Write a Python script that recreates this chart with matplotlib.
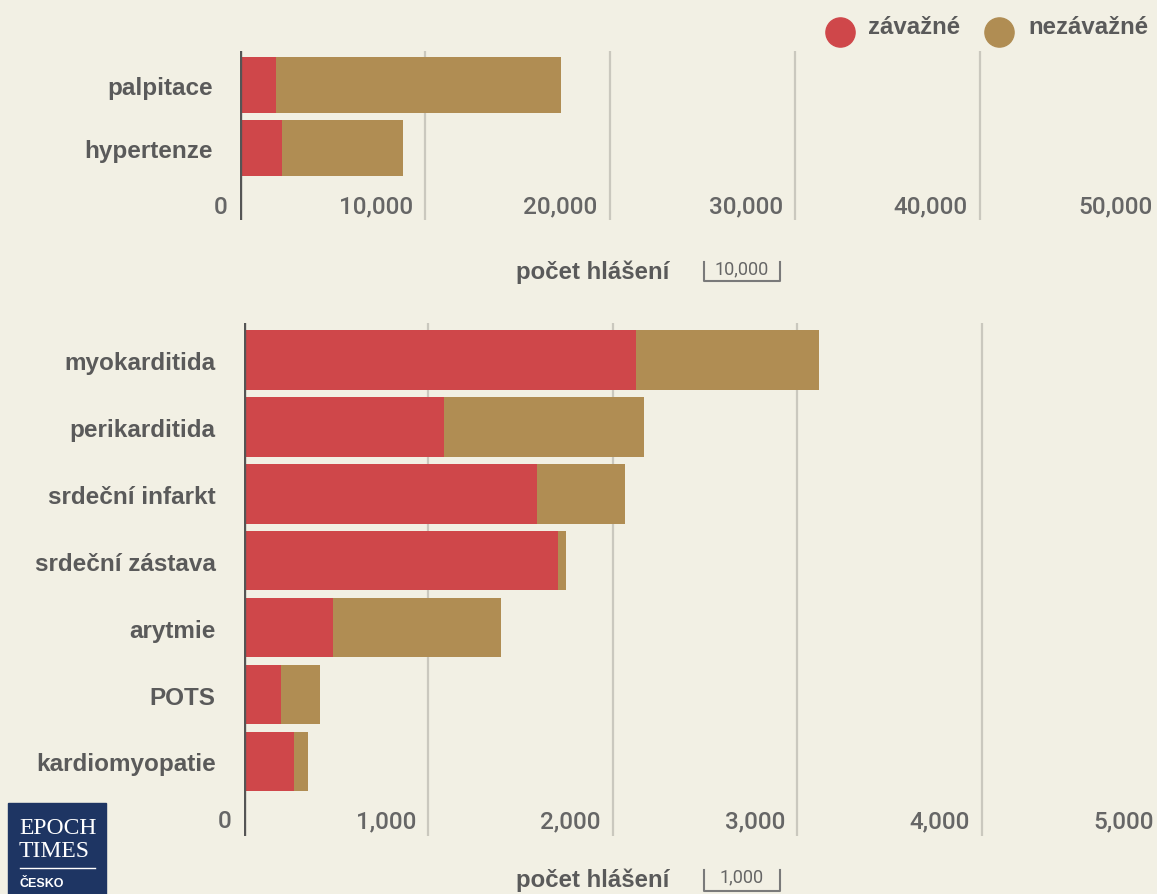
import matplotlib
matplotlib.use('Agg')
import matplotlib.pyplot as plt
from matplotlib.lines import Line2D
from matplotlib.patches import Rectangle

# ## Data (counts of reports)

top_labels = ['palpitace', 'hypertenze']
top_serious = [1970, 2310]
top_nonserious = [15390, 6540]

bottom_labels = ['myokarditida', 'perikarditida', 'srdeční infarkt',
                 'srdeční zástava', 'arytmie', 'POTS', 'kardiomyopatie']
bottom_serious = [2130, 1088, 1592, 1705, 487, 205, 275]
bottom_nonserious = [991, 1083, 477, 41, 910, 211, 73]

top_ticks = [0, 10000, 20000, 30000, 40000, 50000]
bottom_ticks = [0, 1000, 2000, 3000, 4000, 5000]

# ## Style

W, H = 1157, 895
BG = '#f2f0e4'
RED = '#cf474a'
TAN = '#b08d53'
GRID = '#cac8be'
TXT = '#5a5a5a'
LABEL_FONT = 'Liberation Sans'


def fx(px):
    return px / W


def fy(py):
    return 1 - py / H


fig = plt.figure(figsize=(W / 100, H / 100), dpi=100, facecolor=BG)


def bar_panel(rect, labels, serious, nonserious, ticks, ylim, label_y, pad):
    ax = fig.add_axes(rect)
    ax.set_facecolor('none')
    y = list(range(len(labels)))
    ax.barh(y, serious, height=0.89, color=RED, zorder=2)
    ax.barh(y, nonserious, left=serious, height=0.89, color=TAN, zorder=2)
    for v in ticks[1:]:
        ax.axvline(v, color=GRID, lw=1.6, zorder=1)
    ax.axvline(0, color='#555555', lw=2.4, zorder=3)
    for v in ticks:
        ax.annotate(f'{v:,}', xy=(v, label_y), xytext=(-8.5, 0),
                    textcoords='offset points', ha='right', va='center',
                    fontsize=17.5, fontweight='medium', color='#666666',
                    family='Roboto', annotation_clip=False)
    ax.set_xlim(ticks[0], ticks[-1])
    ax.set_ylim(*ylim)
    ax.set_yticks(y, labels)
    ax.tick_params(axis='y', length=0, pad=pad, labelsize=17.5, labelcolor=TXT)
    for t in ax.get_yticklabels():
        t.set_fontweight('bold')
        t.set_family(LABEL_FONT)
    ax.tick_params(axis='x', bottom=False, labelbottom=False)
    for s in ax.spines.values():
        s.set_visible(False)
    return ax


# top panel
bar_panel([fx(239.5), fy(221), 925 / W, 169 / H], top_labels, top_serious,
          top_nonserious, top_ticks, (2.14, -0.54), 1.92, 19)

# bottom panel
bar_panel([fx(243.5), fy(837), 922.5 / W, 513 / H], bottom_labels,
          bottom_serious, bottom_nonserious, bottom_ticks, (7.115, -0.553),
          6.89, 20)


# ## Axis titles with small scale brackets

def scale_bracket(x0, x1, ytop, ybot, text, ty):
    fig.add_artist(Line2D([fx(x0), fx(x0), fx(x1), fx(x1)],
                          [fy(ytop), fy(ybot), fy(ybot), fy(ytop)],
                          color='#7a7a7a', lw=1.5, transform=fig.transFigure))
    fig.text(fx((x0 + x1) / 2), fy(ty), text, ha='center', va='center',
             fontsize=13, color='#666666', family='Roboto')


for ty, bracket_text, by0, by1 in [(272, '10,000', 263, 282), (880, '1,000', 871, 892)]:
    fig.text(fx(593), fy(ty), 'počet hlášení', ha='center', va='center',
             fontsize=17.3, fontweight='bold', color=TXT, family=LABEL_FONT)
    scale_bracket(704, 780, by0, by1, bracket_text, by0 + 6)

# ## Legend

for cx, tx, col, name in [(840, 868, RED, 'závažné'), (999, 1028, TAN, 'nezávažné')]:
    fig.add_artist(Line2D([fx(cx)], [fy(33)], marker='o', ms=21, ls='',
                          color=col, transform=fig.transFigure))
    fig.text(fx(tx), fy(27), name, ha='left', va='center', fontsize=17.3,
             fontweight='bold', color=TXT, family=LABEL_FONT)

# ## Logo

fig.add_artist(Rectangle((fx(8), 0), fx(106) - fx(8), fy(804),
                         transform=fig.transFigure, color='#1e3563'))
fig.text(fx(19), fy(829), 'EPOCH', ha='left', va='center', fontsize=17,
         color='white', family='Liberation Serif')
fig.text(fx(19), fy(852), 'TIMES', ha='left', va='center', fontsize=17,
         color='white', family='Liberation Serif')
fig.add_artist(Line2D([fx(20), fx(95)], [fy(869), fy(869)], color='white',
                      lw=1, transform=fig.transFigure))
fig.text(fx(20), fy(884), 'ČESKO', ha='left', va='center', fontsize=9,
         fontweight='bold', color='white', family=LABEL_FONT)

fig.savefig('out.png', dpi=100, facecolor=BG)
